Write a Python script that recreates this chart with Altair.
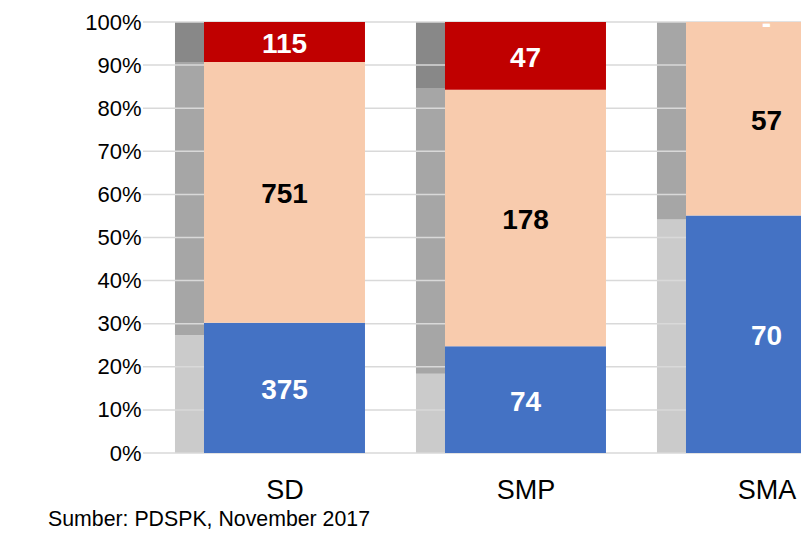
import json
import altair as alt
import pandas as pd

# ---------------- data ----------------
categories = ["SD", "SMP", "SMA"]

# main stacked bars (counts, normalised to 100%)
segments = ["biru", "oranye", "merah"]
blue_counts = [375, 74, 70]
peach_counts = [751, 178, 57]
red_counts = [115, 47, 0]
segment_colors = ["#4472C4", "#F8CBAD", "#C00000"]
label_colors = ["white", "black", "white"]

# narrow grey comparison bars (percent)
grey_levels = ["terang", "sedang", "gelap"]
grey_light = [27.3, 18.4, 54.2]
grey_mid = [63.4, 66.3, 45.8]
grey_dark = [9.3, 15.3, 0.0]
grey_colors = ["#CBCBCB", "#A6A6A6", "#888888"]

y_ticks = [0, 10, 20, 30, 40, 50, 60, 70, 80, 90, 100]
source_text = "Sumber: PDSPK, November 2017"

# ---------------- tables ----------------
main_rows = []
for i, cat in enumerate(categories):
    for k, (seg, vals) in enumerate(zip(segments, [blue_counts, peach_counts, red_counts])):
        v = vals[i]
        main_rows.append({
            "cat": cat, "i": i, "seg": seg, "order": k, "count": v,
            "label": "-" if v == 0 else str(v), "tc": label_colors[k],
        })
df_main = pd.DataFrame(main_rows)

grey_rows = []
for i, cat in enumerate(categories):
    for k, (lvl, vals) in enumerate(zip(grey_levels, [grey_light, grey_mid, grey_dark])):
        grey_rows.append({"cat": cat, "i": i, "lvl": lvl, "order": k, "pct": vals[i]})
df_grey = pd.DataFrame(grey_rows)

df_grid = pd.DataFrame({"t": [t / 100 for t in y_ticks]})
df_src = pd.DataFrame({"t": [source_text]})

FONT = "Liberation Sans"
HALF = 0.334          # half width of main bar (in category units)
GREY_L = 0.4544       # left edge of grey bar relative to category centre

xscale = alt.Scale(domain=[-0.5871, 2.1432], nice=False, zero=False)
yscale = alt.Scale(domain=[0, 1], nice=False)

label_expr = json.dumps(categories) + "[datum.value]"

x_axis = alt.Axis(values=[0, 1, 2], labelExpr=label_expr, title=None, grid=False,
                  ticks=False, tickSize=0, domain=False, labelFont=FONT,
                  labelFontSize=27, labelColor="#000000", labelPadding=45,
                  labelBaseline="alphabetic", labelFlush=False)
y_axis = alt.Axis(values=[t / 100 for t in y_ticks], format=".0%", title=None, grid=False,
                  ticks=False, tickSize=0, domain=False, labelFont=FONT,
                  labelFontSize=22, labelColor="#000000", labelPadding=2)

# grey bars
grey = (
    alt.Chart(df_grey)
    .transform_stack(stack="pct", groupby=["cat"], as_=["g0", "g1"],
                     offset="normalize", sort=[alt.SortField("order")])
    .transform_calculate(xa=f"datum.i - {GREY_L}", xb=f"datum.i - {HALF}")
    .mark_bar(clip=True)
    .encode(
        x=alt.X("xa:Q", scale=xscale, axis=x_axis),
        x2="xb:Q",
        y=alt.Y("g0:Q", scale=yscale, axis=y_axis),
        y2="g1:Q",
        color=alt.Color("lvl:N", scale=alt.Scale(domain=grey_levels, range=grey_colors), legend=None),
    )
)

# gridlines (drawn over grey bars, under main bars)
grid = (
    alt.Chart(df_grid)
    .mark_rule(color="#D9D9D9", strokeWidth=1.5)
    .encode(y=alt.Y("t:Q", scale=yscale, axis=y_axis))
)

# main stacked bars
main_base = (
    alt.Chart(df_main)
    .transform_stack(stack="count", groupby=["cat"], as_=["y0", "y1"],
                     offset="normalize", sort=[alt.SortField("order")])
    .transform_calculate(
        xa=f"datum.i - {HALF}", xb=f"datum.i + {HALF}", mid="(datum.y0 + datum.y1) / 2"
    )
)

main = main_base.mark_bar(clip=True).encode(
    x=alt.X("xa:Q", scale=xscale, axis=x_axis),
    x2="xb:Q",
    y=alt.Y("y0:Q", scale=yscale, axis=y_axis),
    y2="y1:Q",
    color=alt.Color("seg:N", scale=alt.Scale(domain=segments, range=segment_colors), legend=None),
)

labels = main_base.mark_text(font=FONT, fontSize=28, fontWeight="bold", dy=3, clip=True).encode(
    x=alt.X("i:Q", scale=xscale, axis=x_axis),
    y=alt.Y("mid:Q", scale=yscale, axis=y_axis),
    text="label:N",
    color=alt.Color("tc:N", scale=None),
)

source = alt.Chart(df_src).mark_text(
    font=FONT, fontSize=21.3, align="left", baseline="alphabetic", color="#000000"
).encode(x=alt.value(-95), y=alt.value(504), text="t:N")

chart = (
    alt.layer(grey, grid, main, labels, source)
    .resolve_scale(color="independent")
    .properties(
        width=658, height=431,
        autosize=alt.AutoSizeParams(type="none"),
        padding={"left": 135, "top": 14, "right": 0, "bottom": 80},
        background="white",
    )
    .configure_view(strokeWidth=0)
)

chart.save("out.html", embed_options={"renderer": "svg", "actions": False})
